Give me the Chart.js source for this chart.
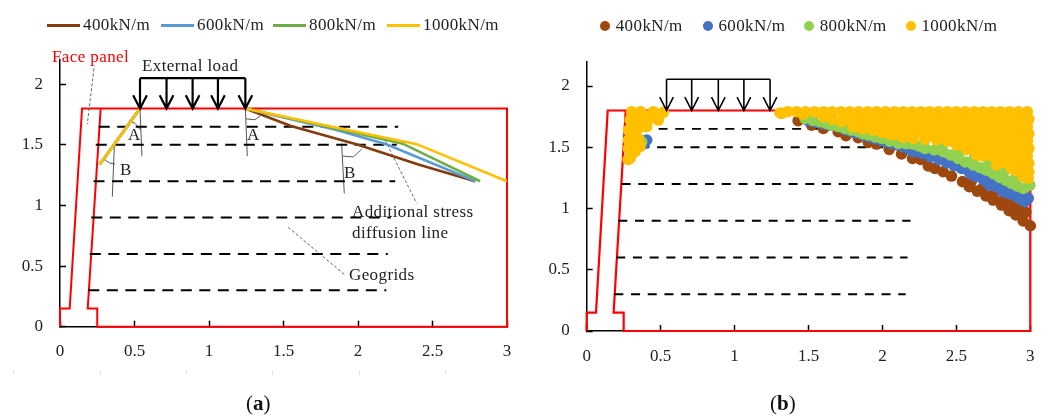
<!DOCTYPE html>
<html>
<head>
<meta charset="utf-8">
<title>Additional stress diffusion</title>
<script src="https://cdn.jsdelivr.net/npm/chart.js@4/dist/chart.umd.min.js"></script>
<style>
  html, body { margin: 0; padding: 0; background: #fff; }
  #stage { position: relative; width: 1049px; height: 417px; overflow: hidden;
           font-family: "Liberation Serif", serif; color: #222; }
  canvas { position: absolute; top: 0; }
  #chartA { left: 0; }
  #chartB { left: 525px; }
  .txt { position: absolute; white-space: nowrap; font-size: 17px; line-height: 20px; letter-spacing: .4px; }
  .swatch { position: absolute; }
  .cap { position: absolute; font-size: 21px; line-height: 24px; color: #111; }
  .mark { position: absolute; width: 1px; height: 4px; background: #ddd; top: 371px; }
</style>
</head>
<body>
<div id="stage">
  <canvas id="chartA" width="525" height="417"></canvas>
  <canvas id="chartB" width="524" height="417"></canvas>
</div>
<script>
const seriesNames = ['400kN/m', '600kN/m', '800kN/m', '1000kN/m'];
const xTicks = [0, 0.5, 1, 1.5, 2, 2.5, 3];
const yTicks = [0, 0.5, 1, 1.5, 2];

// panel a, diffusion lines
const line400 = [[0.537, 1.8], [0.268, 1.34], null, [1.244, 1.8], [1.55, 1.655], [2.0, 1.5], [2.4, 1.34], [2.785, 1.2]];
const line600 = [[0.537, 1.8], [0.268, 1.34], null, [1.244, 1.8], [1.85, 1.625], [2.19, 1.505], [2.79, 1.2]];
const line800 = [[0.537, 1.8], [0.268, 1.34], null, [1.244, 1.8], [1.85, 1.635], [2.3, 1.51], [2.82, 1.2]];
const line1000 = [[0.537, 1.8], [0.268, 1.34], null, [1.244, 1.8], [1.9, 1.63], [2.394, 1.506], [3, 1.2]];

// panel a, thin construction lines and leaders
const guideLines = [
  [0.537, 1.8], [0.55, 1.407], null,
  [1.244, 1.8], [1.257, 1.407], null,
  [0.365, 1.498], [0.351, 1.072], null,
  [1.89, 1.512], [1.908, 1.1], null,
  [0.465, 1.7], [0.503, 1.677], [0.544, 1.622], null,
  [1.248, 1.715], [1.309, 1.707], [1.369, 1.764], null,
  [0.29, 1.388], [0.331, 1.352], [0.369, 1.341], null,
  [1.897, 1.407], [1.969, 1.401], [2.025, 1.465]
];
const leaderLines = [
  [0.228, 2.13], [0.183, 1.671], null,
  [2.181, 1.539], [2.394, 1.017], null,
  [1.532, 0.819], [1.913, 0.426]
];

// wall and backfill outline
const outlineA = [[0, 0], [0, 0.15], [0.065, 0.15], [0.148, 1.8], [3, 1.8], [3, 0], [0.25, 0], [0.25, 0.15], [0.186, 0.15], [0.273, 1.8]];
const outlineB = [[0, 0], [0, 0.15], [0.063, 0.15], [0.142, 1.8], [3, 1.8], [3, 0], [0.25, 0], [0.25, 0.15], [0.182, 0.15], [0.264, 1.8]];

// geogrids: y, x start, x end
const gridsA = [[1.65, 0.26, 2.27], [1.5, 0.24, 2.26], [1.2, 0.225, 2.25], [0.9, 0.21, 2.22], [0.6, 0.2, 2.2], [0.3, 0.19, 2.19]];
const gridsB = [[1.65, 0.26, 2.25], [1.5, 0.25, 2.23], [1.2, 0.236, 2.208], [0.9, 0.214, 2.19], [0.6, 0.2, 2.17], [0.3, 0.187, 2.157]];

// external load arrows
const loadXA = [0.537, 0.715, 0.89, 1.06, 1.244];
const loadXB = [0.54, 0.71, 0.89, 1.063, 1.24];

// panel b, plastic zone points
const pts400 = [
  [0.38, 1.55], [1.43, 1.717], [1.521, 1.681], [1.6, 1.654], [1.701, 1.627], [1.753, 1.594], [1.836, 1.578],
  [1.904, 1.54], [1.96, 1.526], [2.046, 1.483], [2.129, 1.445], [2.204, 1.409], [2.258, 1.4], [2.31, 1.347],
  [2.355, 1.327], [2.411, 1.3], [2.467, 1.265], [2.542, 1.219], [2.587, 1.178], [2.641, 1.142], [2.7, 1.102],
  [2.749, 1.069], [2.805, 1.028], [2.857, 0.982], [2.902, 0.947], [2.952, 0.898], [3, 0.859],
  [2.6, 1.22], [2.68, 1.17], [2.75, 1.12], [2.817, 1.07], [2.87, 1.05], [2.92, 1.0], [2.97, 0.97]
];
const pts600 = [
  [0.406, 1.559], [0.39, 1.53], [1.498, 1.717], [1.6, 1.69], [1.69, 1.673], [1.76, 1.64], [1.836, 1.613], [1.91, 1.585],
  [1.983, 1.559], [2.06, 1.53], [2.14, 1.504], [2.208, 1.464], [2.321, 1.423], [2.433, 1.374], [2.535, 1.327],
  [2.636, 1.259], [2.726, 1.191], [2.817, 1.137], [2.907, 1.096], [2.963, 1.055], [2.986, 1.083],
  [2.265, 1.45], [2.38, 1.4], [2.485, 1.35], [2.585, 1.3], [2.68, 1.24], [2.77, 1.18], [2.86, 1.12], [2.95, 1.12],
  [1.55, 1.705], [1.64, 1.68], [1.73, 1.655], [1.8, 1.625], [1.87, 1.6], [1.95, 1.57], [2.02, 1.545], [2.1, 1.52],
  [2.18, 1.485], [2.6, 1.28], [2.7, 1.22], [2.79, 1.17], [2.87, 1.15], [2.93, 1.08], [2.75, 1.25], [2.85, 1.2], [2.95, 1.15]
];
const pts800 = [
  [0.372, 1.545], [1.476, 1.736], [1.577, 1.708], [1.656, 1.681], [1.746, 1.654], [1.836, 1.627], [1.904, 1.6],
  [1.994, 1.572], [2.107, 1.532], [2.208, 1.526], [2.287, 1.491], [2.411, 1.464], [2.512, 1.409], [2.614, 1.355],
  [2.704, 1.314], [2.794, 1.254], [2.873, 1.205], [2.952, 1.164], [2.997, 1.19],
  [1.53, 1.72], [1.62, 1.695], [1.7, 1.67], [1.79, 1.64], [1.87, 1.61], [1.95, 1.585], [2.05, 1.55], [2.16, 1.53],
  [2.25, 1.51], [2.35, 1.478], [2.46, 1.437], [2.56, 1.38], [2.66, 1.335], [2.75, 1.285], [2.835, 1.23], [2.91, 1.185],
  [2.4, 1.5], [2.52, 1.46], [2.62, 1.41], [2.72, 1.36], [2.82, 1.3], [2.9, 1.25]
];
const pts1000 = [
  // left of the load
  [0.518, 1.785], [0.45, 1.79], [0.365, 1.79], [0.304, 1.79], [0.484, 1.722], [0.428, 1.736], [0.36, 1.722],
  [0.293, 1.722], [0.282, 1.64], [0.349, 1.654], [0.406, 1.668], [0.282, 1.559], [0.349, 1.572], [0.282, 1.49],
  [0.36, 1.518], [0.293, 1.409], [0.327, 1.464], [0.315, 1.6], [0.36, 1.504], [0.28, 1.4],
  [0.32, 1.76], [0.39, 1.76], [0.46, 1.76], [0.325, 1.69], [0.38, 1.69], [0.31, 1.53], [0.3, 1.44],
  // lower edge right of the load
  [1.307, 1.78], [1.318, 1.777], [1.464, 1.771], [1.6, 1.75], [1.66, 1.73], [1.724, 1.709], [1.8, 1.667], [1.87, 1.65],
  [1.938, 1.64], [2.0, 1.62], [2.073, 1.6], [2.14, 1.58], [2.208, 1.572], [2.29, 1.565], [2.366, 1.559], [2.5, 1.518],
  [2.57, 1.48], [2.636, 1.436], [2.772, 1.355], [2.873, 1.327], [2.952, 1.26], [2.986, 1.246],
  // fill above it, rows from the top
  [1.36, 1.79], [1.42, 1.79], [1.48, 1.79], [1.54, 1.79], [1.6, 1.79], [1.66, 1.79], [1.72, 1.79], [1.78, 1.79],
  [1.84, 1.79], [1.9, 1.79], [1.96, 1.79], [2.02, 1.79], [2.08, 1.79], [2.14, 1.79], [2.2, 1.79], [2.26, 1.79],
  [2.32, 1.79], [2.38, 1.79], [2.44, 1.79], [2.5, 1.79], [2.56, 1.79], [2.62, 1.79], [2.68, 1.79], [2.74, 1.79],
  [2.8, 1.79], [2.86, 1.79], [2.92, 1.79], [2.98, 1.79],
  [1.75, 1.73], [1.81, 1.73], [1.87, 1.73], [1.93, 1.73], [1.99, 1.73], [2.05, 1.73], [2.11, 1.73], [2.17, 1.73],
  [2.23, 1.73], [2.29, 1.73], [2.35, 1.73], [2.41, 1.73], [2.47, 1.73], [2.53, 1.73], [2.59, 1.73], [2.65, 1.73],
  [2.71, 1.73], [2.77, 1.73], [2.83, 1.73], [2.89, 1.73], [2.95, 1.73], [2.99, 1.73],
  [1.84, 1.67], [1.9, 1.67], [1.96, 1.67], [2.02, 1.67], [2.08, 1.67], [2.14, 1.67], [2.2, 1.67], [2.26, 1.67],
  [2.32, 1.67], [2.38, 1.67], [2.44, 1.67], [2.5, 1.67], [2.56, 1.67], [2.62, 1.67], [2.68, 1.67], [2.74, 1.67],
  [2.8, 1.67], [2.86, 1.67], [2.92, 1.67], [2.98, 1.67],
  [2.05, 1.61], [2.11, 1.61], [2.17, 1.61], [2.23, 1.61], [2.29, 1.61], [2.35, 1.61], [2.41, 1.61], [2.47, 1.61],
  [2.53, 1.61], [2.59, 1.61], [2.65, 1.61], [2.71, 1.61], [2.77, 1.61], [2.83, 1.61], [2.89, 1.61], [2.95, 1.61], [2.99, 1.61],
  [2.44, 1.55], [2.5, 1.55], [2.56, 1.55], [2.62, 1.55], [2.68, 1.55], [2.74, 1.55], [2.8, 1.55], [2.86, 1.55], [2.92, 1.55], [2.98, 1.55],
  [2.57, 1.49], [2.63, 1.49], [2.69, 1.49], [2.75, 1.49], [2.81, 1.49], [2.87, 1.49], [2.93, 1.49], [2.99, 1.49],
  [2.68, 1.43], [2.74, 1.43], [2.8, 1.43], [2.86, 1.43], [2.92, 1.43], [2.98, 1.43],
  [2.78, 1.37], [2.84, 1.37], [2.9, 1.37], [2.96, 1.37], [2.99, 1.37],
  [2.9, 1.31], [2.96, 1.31], [2.99, 1.3]
];

const lineColors = ['#843c0c', '#5b9bd5', '#70ad47', '#ffc000'];
const dotColors = ['#9e480e', '#4472c4', '#92d050', '#ffc000'];

const toXY = pts => pts.map(p => p ? { x: p[0], y: p[1] } : { x: null, y: null });

function gridPoints(rows) {
    const out = [];
    rows.forEach(r => { out.push([r[1], r[0]], [r[2], r[0]], null); });
    return out;
}

function arrowPoints(xs, topY, baseY) {
    const out = [[xs[0], topY], [xs[xs.length - 1], topY], null];
    xs.forEach(x => {
        out.push([x, topY], [x, baseY], null);
        out.push([x - 0.046, baseY + 0.11], [x, baseY], [x + 0.046, baseY + 0.11], null);
    });
    return out;
}

function lineSet(pts, color, width, order, dash) {
    return {
        data: toXY(pts), showLine: true, borderColor: color, borderWidth: width,
        borderDash: dash || [], pointRadius: 0, tension: 0, order: order, clip: false
    };
}

function dotSet(pts, color, order) {
    return {
        data: toXY(pts), showLine: false, backgroundColor: color, borderWidth: 0,
        pointRadius: 5.8, order: order, clip: false
    };
}

function fitScale(scale, size) {
    if (scale.isHorizontal()) scale.height = size; else scale.width = size;
    // tick labels may run past the plot edge, keep the plot where it is
    scale.paddingLeft = scale.paddingRight = scale.paddingTop = scale.paddingBottom = 0;
}

function axisOptions(ticks, size, padding) {
    return {
        type: 'linear', min: ticks.min, max: ticks.max,
        border: { color: '#000', width: 1.5 },
        grid: { drawOnChartArea: false, tickLength: -6, tickColor: '#000', tickWidth: 1.5 },
        ticks: {
            color: '#222', padding: padding, maxRotation: 0,
            font: { family: 'Liberation Serif', size: 17 },
            callback: v => String(v)
        },
        afterBuildTicks: axis => { axis.ticks = ticks.values.map(v => ({ value: v })); },
        afterFit: s => fitScale(s, size)
    };
}

function makeChart(id, datasets, padding) {
    return new Chart(document.getElementById(id), {
        type: 'scatter',
        data: { datasets: datasets },
        options: {
            responsive: false,
            animation: false,
            devicePixelRatio: 1,
            layout: { padding: padding },
            plugins: { legend: { display: false }, tooltip: { enabled: false } },
            scales: {
                x: axisOptions({ min: 0, max: 3, values: xTicks }, 30, 21),
                y: axisOptions({ min: 0, max: 2.2, values: yTicks }, 40, 23)
            }
        }
    });
}

makeChart('chartA', [
    lineSet(arrowPoints(loadXA, 2.05, 1.8), '#000', 2.2, 0),
    lineSet(line1000, lineColors[3], 2.6, 1),
    lineSet(line800, lineColors[2], 2.6, 2),
    lineSet(line600, lineColors[1], 2.6, 3),
    lineSet(line400, lineColors[0], 2.6, 4),
    lineSet(gridPoints(gridsA), '#000', 2, 5, [11, 7.5]),
    lineSet(guideLines, '#444', 0.9, 6),
    lineSet(leaderLines, '#555', 0.9, 6, [3, 2]),
    lineSet(outlineA, '#ff0000', 2, 7)
], { left: 20, right: 18, top: 60, bottom: 60.3 });

makeChart('chartB', [
    lineSet(arrowPoints(loadXB, 2.055, 1.8), '#000', 1.6, 0),
    dotSet(pts1000, dotColors[3], 1),
    dotSet(pts800, dotColors[2], 2),
    dotSet(pts600, dotColors[1], 3),
    dotSet(pts400, dotColors[0], 4),
    lineSet(gridPoints(gridsB), '#000', 1.8, 5, [9, 7.7]),
    lineSet(outlineB, '#ff0000', 2.2, 7)
], { left: 21.7, right: 18.7, top: 61.5, bottom: 56 });

// Legends and notes sit over the canvases
const stage = document.getElementById('stage');

function addText(text, left, centerY, color) {
    const d = document.createElement('div');
    d.className = 'txt';
    d.textContent = text;
    d.style.left = left + 'px';
    d.style.top = (centerY - 10) + 'px';
    if (color) d.style.color = color;
    stage.appendChild(d);
}

const legendLineX = [47, 161, 273, 387];
const legendDotX = [600, 702.7, 804, 905.7];
seriesNames.forEach((name, i) => {
    const s = document.createElement('div');
    s.className = 'swatch';
    s.style.cssText = 'left:' + legendLineX[i] + 'px;top:24px;width:33px;height:2.6px;background:' + lineColors[i];
    stage.appendChild(s);
    addText(name, legendLineX[i] + 36, 25);

    const c = document.createElement('div');
    c.className = 'swatch';
    c.style.cssText = 'left:' + legendDotX[i] + 'px;top:21px;width:10px;height:10px;border-radius:50%;background:' + dotColors[i];
    stage.appendChild(c);
    addText(name, legendDotX[i] + 15.7, 26);
});

addText('Face panel', 52, 57, '#ff0000');
addText('External load', 142, 66);
addText('A', 128, 135);
addText('A', 247, 135);
addText('B', 120, 170);
addText('B', 344, 173);
addText('Additional stress', 352, 212);
addText('diffusion line', 352, 233);
addText('Geogrids', 349, 275);

[['a', 246], ['b', 770]].forEach(c => {
    const d = document.createElement('div');
    d.className = 'cap';
    d.style.left = c[1] + 'px';
    d.style.top = '391px';
    d.innerHTML = '(<b>' + c[0] + '</b>)';
    stage.appendChild(d);
});

[13, 100, 186, 272, 359, 445].forEach(x => {
    const m = document.createElement('div');
    m.className = 'mark';
    m.style.left = x + 'px';
    stage.appendChild(m);
});
</script>
</body>
</html>
